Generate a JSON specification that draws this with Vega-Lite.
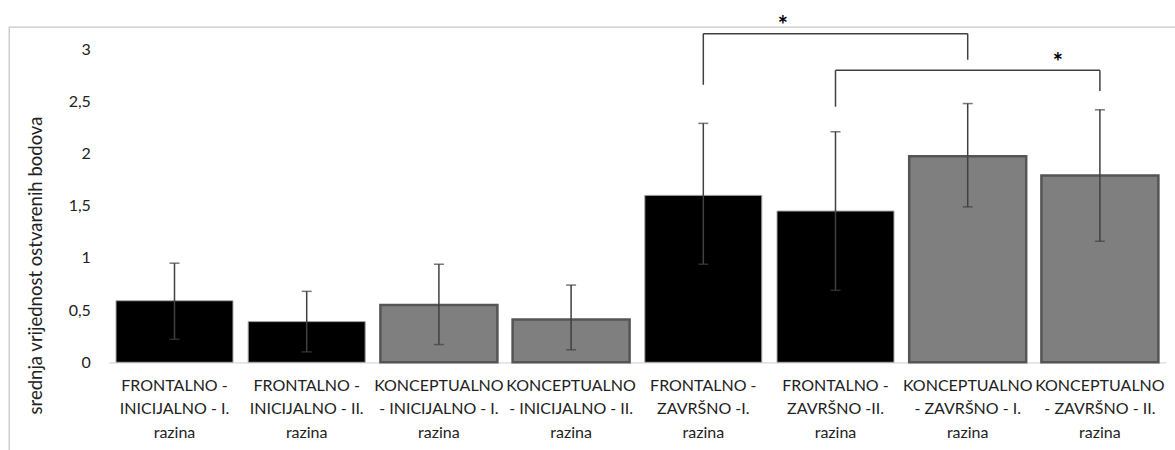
{
  "$schema": "https://vega.github.io/schema/vega-lite/v6.json",
  "autosize": "none",
  "padding": {"left": 9, "top": 27, "right": 0, "bottom": 0},
  "width": 1175,
  "height": 440,
  "background": "white",
  "config": {
    "view": {"stroke": "#c8c8c8", "strokeWidth": 1.3},
    "font": "Lato"
  },
  "datasets": {
    "bars": [
      {"kategorija": "FRONTALNO -|INICIJALNO - I.|razina", "grupa": "frontalno", "prosjek": 0.59, "donja": 0.22, "gornja": 0.95},
      {"kategorija": "FRONTALNO -|INICIJALNO - II.|razina", "grupa": "frontalno", "prosjek": 0.39, "donja": 0.10, "gornja": 0.68},
      {"kategorija": "KONCEPTUALNO|- INICIJALNO - I.|razina", "grupa": "konceptualno", "prosjek": 0.55, "donja": 0.17, "gornja": 0.94},
      {"kategorija": "KONCEPTUALNO|- INICIJALNO - II.|razina", "grupa": "konceptualno", "prosjek": 0.41, "donja": 0.12, "gornja": 0.74},
      {"kategorija": "FRONTALNO -|ZAVRŠNO -I.|razina", "grupa": "frontalno", "prosjek": 1.60, "donja": 0.94, "gornja": 2.29},
      {"kategorija": "FRONTALNO -|ZAVRŠNO -II.|razina", "grupa": "frontalno", "prosjek": 1.45, "donja": 0.69, "gornja": 2.21},
      {"kategorija": "KONCEPTUALNO|- ZAVRŠNO - I.|razina", "grupa": "konceptualno", "prosjek": 1.975, "donja": 1.49, "gornja": 2.48},
      {"kategorija": "KONCEPTUALNO|- ZAVRŠNO - II.|razina", "grupa": "konceptualno", "prosjek": 1.79, "donja": 1.16, "gornja": 2.42}
    ],
    "legs": [
      {"kategorija": "FRONTALNO -|ZAVRŠNO -I.|razina", "od": 2.66, "do": 3.15},
      {"kategorija": "KONCEPTUALNO|- ZAVRŠNO - I.|razina", "od": 2.90, "do": 3.15},
      {"kategorija": "FRONTALNO -|ZAVRŠNO -II.|razina", "od": 2.45, "do": 2.80},
      {"kategorija": "KONCEPTUALNO|- ZAVRŠNO - II.|razina", "od": 2.60, "do": 2.80}
    ],
    "spans": [
      {"lijevo": "FRONTALNO -|ZAVRŠNO -I.|razina", "desno": "KONCEPTUALNO|- ZAVRŠNO - I.|razina", "razina": 3.15},
      {"lijevo": "FRONTALNO -|ZAVRŠNO -II.|razina", "desno": "KONCEPTUALNO|- ZAVRŠNO - II.|razina", "razina": 2.80}
    ],
    "stars": [
      {"kategorija": "FRONTALNO -|ZAVRŠNO -II.|razina", "par": "a", "razina": 3.217, "oznaka": "*"},
      {"kategorija": "KONCEPTUALNO|- ZAVRŠNO - II.|razina", "par": "b", "razina": 2.856, "oznaka": "*"}
    ]
  },
  "layer": [
    {
      "data": {"name": "bars"},
      "mark": {"type": "bar"},
      "encoding": {
        "x": {
          "field": "kategorija",
          "type": "nominal",
          "title": null,
          "scale": {
            "domain": [
              "FRONTALNO -|INICIJALNO - I.|razina",
              "FRONTALNO -|INICIJALNO - II.|razina",
              "KONCEPTUALNO|- INICIJALNO - I.|razina",
              "KONCEPTUALNO|- INICIJALNO - II.|razina",
              "FRONTALNO -|ZAVRŠNO -I.|razina",
              "FRONTALNO -|ZAVRŠNO -II.|razina",
              "KONCEPTUALNO|- ZAVRŠNO - I.|razina",
              "KONCEPTUALNO|- ZAVRŠNO - II.|razina"
            ],
            "range": [99.4, 1157],
            "paddingInner": 0.115,
            "paddingOuter": 0.0575
          },
          "axis": {
            "orient": "bottom",
            "offset": -104.7,
            "domainColor": "#d9d9d9",
            "domainWidth": 1.3,
            "ticks": false,
            "grid": false,
            "labelAngle": 0,
            "labelAlign": "center",
            "labelBaseline": "top",
            "labelExpr": "split(datum.label, '|')",
            "labelFontSize": 16,
            "labelLineHeight": 23.5,
            "labelPadding": 15,
            "labelColor": "#222222",
            "labelOverlap": false,
            "labelLimit": 0
          }
        },
        "y": {
          "field": "prosjek",
          "type": "quantitative",
          "title": "srednja vrijednost ostvarenih bodova",
          "scale": {"domain": [0, 3], "range": [335.3, 22.3], "nice": false},
          "axis": {
            "orient": "left",
            "offset": -99.4,
            "domain": false,
            "ticks": false,
            "grid": false,
            "values": [0, 0.5, 1, 1.5, 2, 2.5, 3],
            "format": "~g",
            "labelExpr": "replace(datum.label, '.', ',')",
            "labelFontSize": 16,
            "labelPadding": 18,
            "labelColor": "#222222",
            "titleFontSize": 18.5,
            "titleFontWeight": "normal",
            "titleColor": "#222222",
            "titleX": -63,
            "titleY": 238
          }
        },
        "fill": {
          "field": "grupa",
          "type": "nominal",
          "scale": {"domain": ["frontalno", "konceptualno"], "range": ["#000000", "#7f7f7f"]},
          "legend": null
        },
        "stroke": {
          "field": "grupa",
          "type": "nominal",
          "scale": {"domain": ["frontalno", "konceptualno"], "range": ["#a6a6a6", "#555555"]},
          "legend": null
        },
        "strokeWidth": {
          "condition": {"test": "datum.grupa === 'konceptualno'", "value": 2.5},
          "value": 1
        }
      }
    },
    {
      "data": {"name": "bars"},
      "mark": {"type": "rule", "color": "#404040", "strokeWidth": 1.5},
      "encoding": {
        "x": {"field": "kategorija", "type": "nominal"},
        "y": {"field": "donja", "type": "quantitative"},
        "y2": {"field": "gornja"}
      }
    },
    {
      "data": {"name": "bars"},
      "mark": {"type": "tick", "color": "#404040", "size": 10, "thickness": 1.5, "orient": "horizontal"},
      "encoding": {
        "x": {"field": "kategorija", "type": "nominal"},
        "y": {"field": "donja", "type": "quantitative"}
      }
    },
    {
      "data": {"name": "bars"},
      "mark": {"type": "tick", "color": "#404040", "size": 10, "thickness": 1.5, "orient": "horizontal"},
      "encoding": {
        "x": {"field": "kategorija", "type": "nominal"},
        "y": {"field": "gornja", "type": "quantitative"}
      }
    },
    {
      "data": {"name": "legs"},
      "mark": {"type": "rule", "color": "#404040", "strokeWidth": 1.5},
      "encoding": {
        "x": {"field": "kategorija", "type": "nominal"},
        "y": {"field": "od", "type": "quantitative"},
        "y2": {"field": "do"}
      }
    },
    {
      "data": {"name": "spans"},
      "mark": {"type": "rule", "color": "#404040", "strokeWidth": 1.5},
      "encoding": {
        "x": {"field": "lijevo", "type": "nominal", "bandPosition": 0.5},
        "x2": {"field": "desno", "bandPosition": 0.5},
        "y": {"field": "razina", "type": "quantitative"}
      }
    },
    {
      "data": {"name": "stars"},
      "transform": [{"filter": "datum.par === 'a'"}],
      "mark": {"type": "text", "fontSize": 24, "fontWeight": "bold", "color": "#000000", "baseline": "middle", "align": "center"},
      "encoding": {
        "x": {"field": "kategorija", "type": "nominal", "bandPosition": 0.05},
        "y": {"field": "razina", "type": "quantitative"},
        "text": {"field": "oznaka"}
      }
    },
    {
      "data": {"name": "stars"},
      "transform": [{"filter": "datum.par === 'b'"}],
      "mark": {"type": "text", "fontSize": 24, "fontWeight": "bold", "color": "#000000", "baseline": "middle", "align": "center"},
      "encoding": {
        "x": {"field": "kategorija", "type": "nominal", "bandPosition": 0.14},
        "y": {"field": "razina", "type": "quantitative"},
        "text": {"field": "oznaka"}
      }
    }
  ]
}
